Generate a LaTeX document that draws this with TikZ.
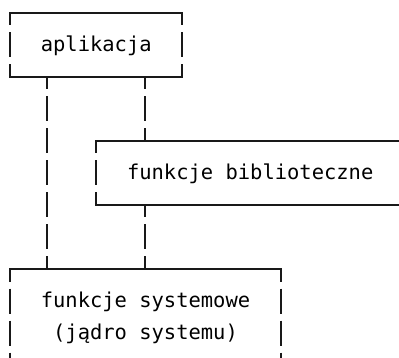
\documentclass[tikz,border=0pt]{standalone}
\usepackage{fontspec}
\newfontfamily\artmono{DejaVu Sans Mono}
\begin{document}
\begin{tikzpicture}[x=1pt,y=-1pt,
  hline/.style={line width=1.7pt, draw=black!90, line cap=rect},
  vline/.style={line width=1.7pt, draw=black!90, dash pattern=on 25pt off 7pt, dash phase=12.5pt},
  lbl/.style={font=\artmono\fontsize{20.46pt}{32pt}\selectfont, inner sep=0pt, anchor=base west, text=black}]
\fill[white] (0,0) rectangle (399,358);
\clip (0,0) rectangle (399,358);
% text nodes
\node[lbl] (app) at (40.6,51.5) {aplikacja};
\node[lbl] (lib) at (126.84,179.5) {funkcje biblioteczne};
\node[lbl] (sys1) at (40.6,307.5) {funkcje systemowe};
\node[lbl] (sys2) at (52.92,339.5) {(jądro systemu)};
% box corners and junctions
\coordinate (appTL) at (9.8,13);
\coordinate (appTR) at (182.28,13);
\coordinate (appBL) at (9.8,77);
\coordinate (appBR) at (182.28,77);
\coordinate (appB1) at (46.76,77);
\coordinate (appB2) at (145.32,77);
\coordinate (libTL) at (96.04,141);
\coordinate (libTR) at (412,141);
\coordinate (libBL) at (96.04,205);
\coordinate (libBR) at (412,205);
\coordinate (libT) at (145.32,141);
\coordinate (libB) at (145.32,205);
\coordinate (sysTL) at (9.8,269);
\coordinate (sysTR) at (280.84,269);
\coordinate (sysBL) at (9.8,365);
\coordinate (sysBR) at (280.84,365);
\coordinate (sysT1) at (46.76,269);
\coordinate (sysT2) at (145.32,269);
% application box
\draw[hline] (appTL) -- (appTR);
\draw[hline] (appBL) -- (appBR);
\draw[vline] (appTL) -- (appBL);
\draw[vline] (appTR) -- (appBR);
% library box
\draw[hline] (libTL) -- (libTR);
\draw[hline] (libBL) -- (libBR);
\draw[vline] (libTL) -- (libBL);
% system box
\draw[hline] (sysTL) -- (sysTR);
\draw[vline] (sysTL) -- (sysBL);
\draw[vline] (sysTR) -- (sysBR);
% connectors
\draw[vline] (appB1) -- (sysT1);
\draw[vline] (appB2) -- (libT);
\draw[vline] (libB) -- (sysT2);
\end{tikzpicture}
\end{document}
